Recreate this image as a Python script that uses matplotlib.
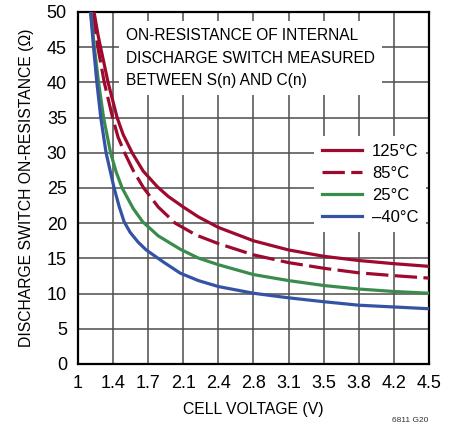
import matplotlib
matplotlib.use('Agg')
import matplotlib.pyplot as plt

plt.rcParams['font.family'] = ['Liberation Sans', 'DejaVu Sans']

# curve points (cell voltage V, resistance ohm)
v_125 = [1.16, 1.20, 1.225, 1.30, 1.39, 1.45, 1.54, 1.65, 1.79, 1.9, 2.05, 2.2, 2.4, 2.75, 3.1, 3.45, 3.8, 4.15, 4.5]
r_125 = [50, 46.7, 45, 40, 35, 32.6, 30, 27.4, 25.2, 23.8, 22.3, 20.9, 19.4, 17.5, 16.2, 15.3, 14.7, 14.25, 13.87]

v_85 = [1.145, 1.198, 1.262, 1.345, 1.40, 1.465, 1.55, 1.655, 1.80, 1.97, 2.18, 2.4, 2.75, 3.1, 3.45, 3.8, 4.15, 4.5]
r_85 = [50, 45, 40, 35, 32.2, 30, 27.5, 25, 22.3, 20.0, 18.3, 17.1, 15.5, 14.4, 13.6, 12.95, 12.55, 12.2]

v_25 = [1.127, 1.163, 1.205, 1.255, 1.325, 1.38, 1.44, 1.55, 1.645, 1.8, 2.02, 2.2, 2.4, 2.75, 3.1, 3.45, 3.8, 4.15, 4.5]
r_25 = [50, 45, 40, 35, 30, 27.3, 25, 22.1, 20.2, 18.2, 16.3, 15.05, 14.1, 12.7, 11.85, 11.15, 10.65, 10.3, 10.05]

v_m40 = [1.125, 1.155, 1.188, 1.227, 1.28, 1.36, 1.41, 1.46, 1.52, 1.60, 1.68, 1.85, 2.02, 2.2, 2.4, 2.75, 3.1, 3.45, 3.8, 4.15, 4.5]
r_m40 = [50, 45, 40, 35, 30, 25, 22.4, 20.2, 18.7, 17.3, 16.2, 14.5, 12.9, 11.85, 11.0, 10.05, 9.4, 8.85, 8.35, 8.1, 7.85]

x_ticks = [1, 1.35, 1.7, 2.05, 2.4, 2.75, 3.1, 3.45, 3.8, 4.15, 4.5]
x_labels = ['1', '1.4', '1.7', '2.1', '2.4', '2.8', '3.1', '3.5', '3.8', '4.2', '4.5']
y_ticks = [0, 5, 10, 15, 20, 25, 30, 35, 40, 45, 50]

red = '#9E0A2E'
green = '#3A8C4C'
blue = '#3552A5'

fig = plt.figure(figsize=(4.58, 4.25), dpi=100)
ax = fig.add_axes([78 / 458, 61 / 425, 351 / 458, 352 / 425])

ax.plot(v_125, r_125, color=red, lw=2.3, label='125°C', zorder=4)
ax.plot(v_85, r_85, color=red, lw=2.3, dashes=(7, 2), label='85°C', zorder=4)
ax.plot(v_25, r_25, color=green, lw=2.3, label='25°C', zorder=4)
ax.plot(v_m40, r_m40, color=blue, lw=2.3, label='\u201340°C', zorder=4)

ax.set_xlim(1, 4.5)
ax.set_ylim(0, 50)
ax.set_xticks(x_ticks)
ax.set_xticklabels(x_labels)
ax.set_yticks(y_ticks)
ax.tick_params(length=0, labelsize=13, pad=8)
ax.grid(True, color='#4d4d4d', lw=1.1, zorder=1)
ax.set_axisbelow(True)
for s in ax.spines.values():
    s.set_linewidth(1.6)
    s.set_color('black')

ax.set_xlabel('CELL VOLTAGE (V)', fontsize=11.3, labelpad=7)
ax.set_ylabel('DISCHARGE SWITCH ON-RESISTANCE (\u03a9)', fontsize=11.3, labelpad=9)

ax.text(0.137, 0.954, 'ON-RESISTANCE OF INTERNAL\nDISCHARGE SWITCH MEASURED\nBETWEEN S(n) AND C(n)',
        transform=ax.transAxes, fontsize=11.2, va='top', ha='left', linespacing=1.62,
        bbox=dict(facecolor='white', edgecolor='none', pad=5), zorder=3)

leg = ax.legend(loc='upper right', bbox_to_anchor=(0.991, 0.647), fontsize=12,
                frameon=True, fancybox=False, framealpha=1, edgecolor='none',
                handlelength=2.4, handletextpad=0.6, labelspacing=0.42, borderpad=0.45,
                borderaxespad=0)
leg.set_zorder(5)

fig.text(0.935, 1 / 425, '6811 G20', fontsize=6, ha='right', va='bottom', color='#333333')

fig.savefig('out.png', dpi=100)
plt.close(fig)
